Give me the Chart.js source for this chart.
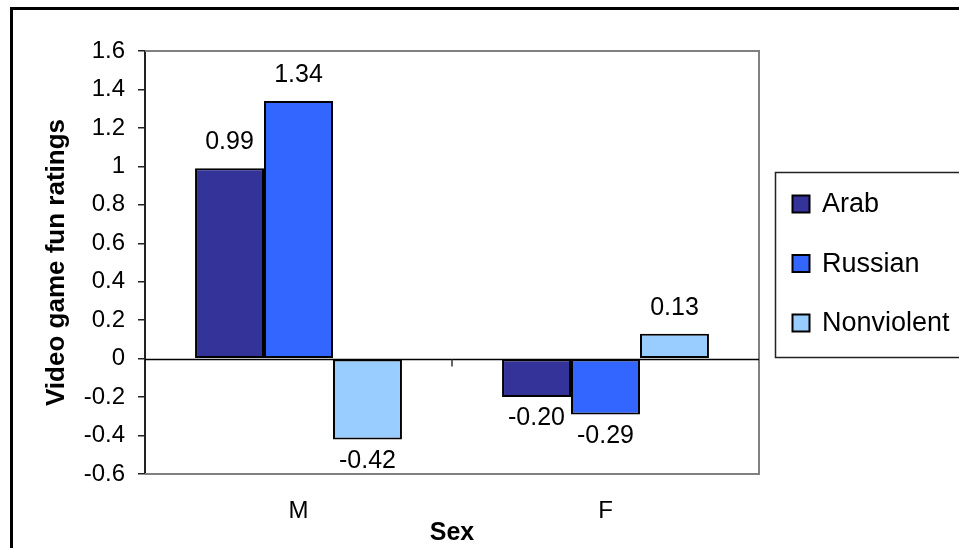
<!DOCTYPE html>
<html>
<head>
<meta charset="utf-8">
<title>Video game fun ratings by sex</title>
<script src="https://cdn.jsdelivr.net/npm/chart.js@4.4.1/dist/chart.umd.min.js"></script>
<style>
  html, body { margin: 0; padding: 0; background: #ffffff; }
  #wrap { width: 959px; height: 548px; position: relative; }
</style>
</head>
<body>
<div id="wrap"><canvas id="chart" width="959" height="548"></canvas></div>
<script>
// Categories and series
const categories = ['M', 'F'];
const seriesNames = ['Arab', 'Russian', 'Nonviolent'];
const arabValues = [0.99, -0.20];
const russianValues = [1.34, -0.29];
const nonviolentValues = [-0.42, 0.13];
const seriesColors = ['#333399', '#3366FF', '#99CCFF'];
const yTickValues = [-0.6, -0.4, -0.2, 0, 0.2, 0.4, 0.6, 0.8, 1, 1.2, 1.4, 1.6];

const FONT = "'Liberation Sans', Arial, Helvetica, sans-serif";

// Plot-area frame, zero axis with category separators, value labels, legend and chart border
const decorations = {
  id: 'decorations',
  beforeDraw(chart) {
    const ctx = chart.ctx;
    ctx.save();
    ctx.fillStyle = '#ffffff';
    ctx.fillRect(0, 0, chart.width, chart.height);
    ctx.restore();
  },
  beforeDatasetsDraw(chart) {
    const ctx = chart.ctx;
    const a = chart.chartArea;
    const y = chart.scales.y;
    const x = chart.scales.x;
    ctx.save();
    // gray frame (top, right, bottom)
    ctx.strokeStyle = '#808080';
    ctx.lineWidth = 2;
    ctx.beginPath();
    ctx.moveTo(a.left, a.top);
    ctx.lineTo(a.right, a.top);
    ctx.lineTo(a.right, a.bottom);
    ctx.lineTo(a.left, a.bottom);
    ctx.stroke();
    // category axis at zero
    const y0 = Math.round(y.getPixelForValue(0)) + 0.5;
    ctx.strokeStyle = '#000000';
    ctx.lineWidth = 1.5;
    ctx.beginPath();
    ctx.moveTo(a.left, y0);
    ctx.lineTo(a.right, y0);
    ctx.stroke();
    // tick marks between categories
    ctx.strokeStyle = '#333333';
    ctx.lineWidth = 1.5;
    for (let i = 1; i < categories.length; i++) {
      const px = (x.getPixelForValue(i - 1) + x.getPixelForValue(i)) / 2;
      ctx.beginPath();
      ctx.moveTo(px, y0);
      ctx.lineTo(px, y0 + 7);
      ctx.stroke();
    }
    ctx.restore();
  },
  afterDatasetsDraw(chart) {
    const ctx = chart.ctx;
    ctx.save();
    ctx.font = '25px ' + FONT;
    ctx.fillStyle = '#000000';
    ctx.textAlign = 'center';
    chart.data.datasets.forEach((ds, di) => {
      const meta = chart.getDatasetMeta(di);
      meta.data.forEach((bar, i) => {
        const v = ds.data[i];
        const txt = v.toFixed(2);
        if (v >= 0) {
          ctx.textBaseline = 'alphabetic';
          ctx.fillText(txt, bar.x, bar.y - 19);
        } else {
          ctx.textBaseline = 'top';
          ctx.fillText(txt, bar.x, bar.y + 9);
        }
      });
    });
    ctx.restore();
  },
  afterDraw(chart) {
    const ctx = chart.ctx;
    ctx.save();
    // legend box
    const lx = 775.5, ly = 172.5;
    ctx.strokeStyle = '#222222';
    ctx.lineWidth = 1.5;
    ctx.fillStyle = '#ffffff';
    ctx.fillRect(lx, ly, 200, 185);
    ctx.strokeRect(lx, ly, 200, 185);
    ctx.font = '27px ' + FONT;
    ctx.textAlign = 'left';
    ctx.textBaseline = 'middle';
    chart.data.datasets.forEach((ds, i) => {
      const cy = 204 + i * 59.5;
      ctx.fillStyle = ds.backgroundColor;
      ctx.fillRect(792.5, cy - 8.5, 17, 17);
      ctx.strokeStyle = '#000000';
      ctx.lineWidth = 2;
      ctx.strokeRect(792.5, cy - 8.5, 17, 17);
      ctx.fillStyle = '#000000';
      ctx.fillText(ds.label, 822, cy + 1);
    });
    // outer chart border
    ctx.strokeStyle = '#000000';
    ctx.lineWidth = 3;
    ctx.strokeRect(11.5, 8.5, chart.width + 20, chart.height + 20);
    ctx.restore();
  }
};

const datasets = [arabValues, russianValues, nonviolentValues].map((vals, i) => ({
  label: seriesNames[i],
  data: vals,
  backgroundColor: seriesColors[i],
  borderColor: '#000000',
  borderWidth: 2,
  borderSkipped: false,
  categoryPercentage: 0.674,
  barPercentage: 1.0
}));

new Chart(document.getElementById('chart'), {
  type: 'bar',
  data: { labels: categories, datasets },
  options: {
    responsive: false,
    animation: false,
    devicePixelRatio: 1,
    layout: { padding: { left: 0, top: 51, right: 200, bottom: 0 } },
    plugins: {
      legend: { display: false },
      tooltip: { enabled: false }
    },
    scales: {
      x: {
        grid: { display: false, drawTicks: false },
        border: { display: false },
        ticks: {
          color: '#000000',
          font: { family: FONT, size: 24 },
          padding: 23
        },
        title: {
          display: true,
          text: 'Sex',
          color: '#000000',
          font: { family: FONT, size: 25, weight: 'bold' },
          padding: { top: 6, bottom: 0 }
        },
        afterFit(scale) { scale.height = 74; }
      },
      y: {
        min: -0.6,
        max: 1.6,
        afterBuildTicks(scale) { scale.ticks = yTickValues.map(v => ({ value: v })); },
        grid: {
          drawOnChartArea: false,
          drawTicks: true,
          tickLength: 7,
          color: '#222222',
          lineWidth: 1.5
        },
        border: { display: true, color: '#222222', width: 2 },
        ticks: {
          color: '#000000',
          font: { family: FONT, size: 24 },
          padding: 13,
          callback: (v) => String(Number(v.toFixed(1)))
        },
        title: {
          display: true,
          text: 'Video game fun ratings',
          color: '#000000',
          font: { family: FONT, size: 26, weight: 'bold' },
          padding: { top: 41, bottom: 0 }
        },
        afterFit(scale) { scale.width = 145; }
      }
    }
  },
  plugins: [decorations]
});
</script>
</body>
</html>
